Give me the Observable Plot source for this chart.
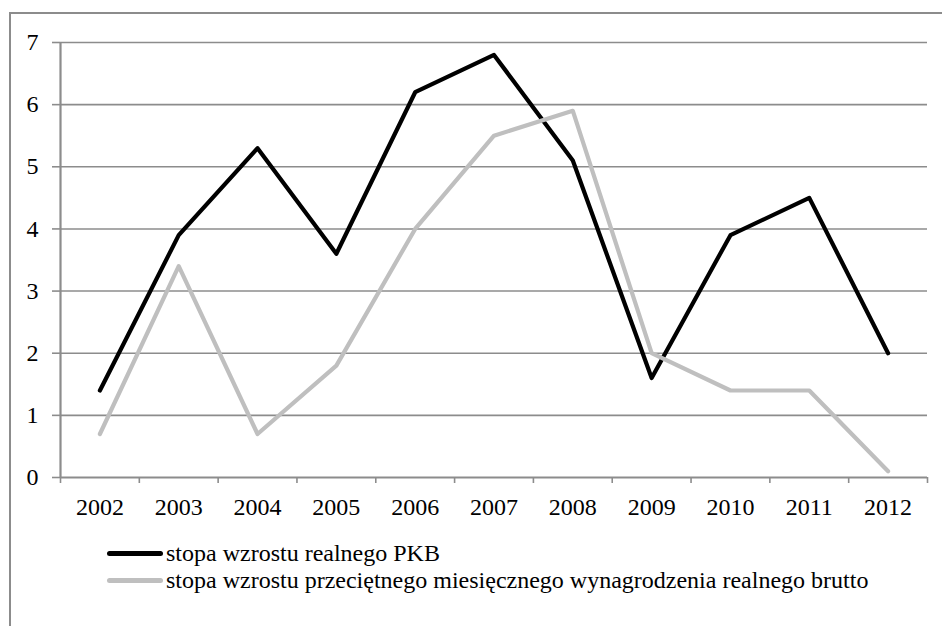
<!DOCTYPE html>
<html>
<head>
<meta charset="utf-8">
<script src="https://cdn.jsdelivr.net/npm/d3@7"></script>
<script src="https://cdn.jsdelivr.net/npm/@observablehq/plot@0.6"></script>
<style>
  body { margin: 0; background: #fff; }
  #wrap { position: relative; width: 942px; height: 626px; overflow: hidden; font-family: "Liberation Serif", "Times New Roman", serif; }
  #frame { position: absolute; left: 9px; top: 12px; right: -5px; bottom: -5px; border-top: 2px solid #8c8c8c; border-left: 2px solid #8c8c8c; }
  #chart { position: absolute; left: 0; top: 0; }
  #legend { position: absolute; left: 107px; top: 540px; font-size: 24px; color: #000; }
  .item { display: flex; align-items: center; height: 27px; white-space: nowrap; }
  .sw { display: inline-block; width: 56px; height: 5px; border-radius: 3px; margin-right: 3px; }
</style>
</head>
<body>
<div id="wrap">
  <div id="frame"></div>
  <div id="chart"></div>
  <div id="legend"></div>
</div>
<script>
const years = [2002, 2003, 2004, 2005, 2006, 2007, 2008, 2009, 2010, 2011, 2012];
const gdp = [1.4, 3.9, 5.3, 3.6, 6.2, 6.8, 5.1, 1.6, 3.9, 4.5, 2.0];
const wages = [0.7, 3.4, 0.7, 1.8, 4.0, 5.5, 5.9, 2.0, 1.4, 1.4, 0.1];
const seriesNames = ["stopa wzrostu realnego PKB", "stopa wzrostu przeciętnego miesięcznego wynagrodzenia realnego brutto"];
const seriesColors = ["#000000", "#bfbfbf"];
const yTicks = [0, 1, 2, 3, 4, 5, 6, 7];

const rows = [];
years.forEach((y, i) => {
  rows.push({year: y, value: gdp[i], s: seriesNames[0]});
  rows.push({year: y, value: wages[i], s: seriesNames[1]});
});
const boundaries = years.map(y => y - 0.5).concat([years[years.length - 1] + 0.5]);

const font = "'Liberation Serif', 'Times New Roman', serif";
const plot = Plot.plot({
  width: 942,
  height: 626,
  marginLeft: 60,
  marginRight: 15,
  marginTop: 42,
  marginBottom: 149,
  style: {fontFamily: font, fontSize: "24px", color: "#000", background: "transparent", overflow: "visible"},
  x: {type: "linear", domain: [boundaries[0], boundaries[boundaries.length - 1]]},
  y: {domain: [0, 7]},
  marks: [
    Plot.ruleY(yTicks.filter(d => d > 0), {stroke: "#8c8c8c", strokeWidth: 1.6}),
    Plot.axisY({ticks: yTicks, tickSize: 8, tickPadding: 14, tickFormat: d => String(d), stroke: "#8c8c8c", strokeWidth: 1.6, fill: "#000", label: null, fontSize: 24}),
    Plot.axisX({ticks: boundaries, tickSize: 6, tickFormat: () => "", stroke: "#8c8c8c", strokeWidth: 1.6, label: null}),
    Plot.axisX({ticks: years, tickSize: 0, tickPadding: 20, tickFormat: d => String(d), fill: "#000", label: null, fontSize: 24}),
    Plot.ruleX([boundaries[0]], {stroke: "#8c8c8c", strokeWidth: 2.2}),
    Plot.ruleY([0], {stroke: "#8c8c8c", strokeWidth: 2.2}),
    Plot.line(rows, {x: "year", y: "value", z: "s", stroke: "s", strokeWidth: 4.2, strokeLinejoin: "round", strokeLinecap: "round"})
  ],
  color: {domain: seriesNames, range: seriesColors}
});
document.getElementById("chart").appendChild(plot);

const legend = document.getElementById("legend");
seriesNames.forEach((n, i) => {
  const it = document.createElement("div");
  it.className = "item";
  const sw = document.createElement("span");
  sw.className = "sw";
  sw.style.background = seriesColors[i];
  const t = document.createElement("span");
  t.textContent = n;
  it.appendChild(sw);
  it.appendChild(t);
  legend.appendChild(it);
});
</script>
</body>
</html>
